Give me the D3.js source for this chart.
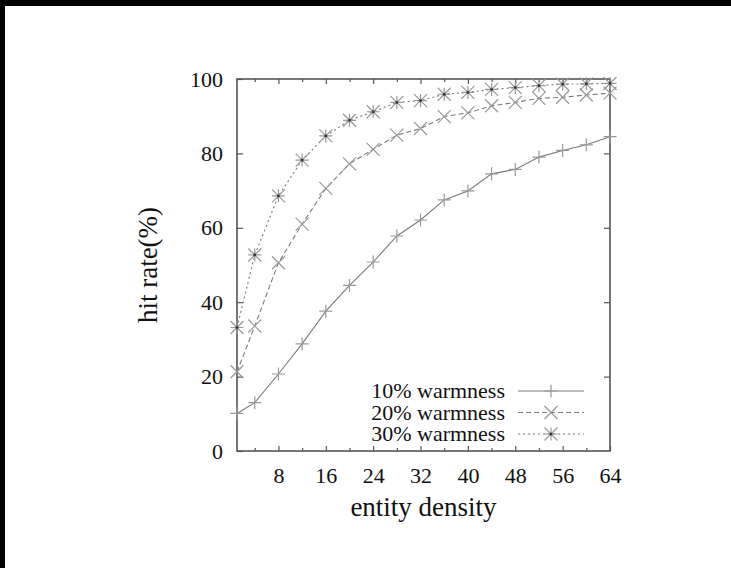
<!DOCTYPE html>
<html>
<head>
<meta charset="utf-8">
<script src="https://cdn.jsdelivr.net/npm/d3@7"></script>
<style>
  body { margin: 0; background: #fff; }
  svg { display: block; }
  text { font-family: "Liberation Serif", "DejaVu Serif", serif; fill: #111; }
</style>
</head>
<body>
<div id="chart"></div>
<script>
/* hit rate vs entity density, three warmness levels */

const density = [1, 4, 8, 12, 16, 20, 24, 28, 32, 36, 40, 44, 48, 52, 56, 60, 64];
const warm10 = [10.1, 13.0, 20.7, 28.8, 37.6, 44.5, 50.8, 57.8, 62.1, 67.5, 69.9, 74.5, 75.7, 79.0, 80.8, 82.3, 84.5];
const warm20 = [21.3, 33.6, 50.6, 61.0, 70.6, 77.2, 81.1, 84.9, 86.7, 89.9, 90.9, 92.8, 93.7, 94.8, 95.1, 95.7, 96.2];
const warm30 = [33.2, 52.7, 68.6, 78.2, 84.7, 88.9, 91.2, 93.7, 94.2, 95.9, 96.4, 97.2, 97.7, 98.2, 98.6, 98.7, 98.8];
const seriesNames = ["10% warmness", "20% warmness", "30% warmness"];
const xLabelTicks = [8, 16, 24, 32, 40, 48, 56, 64];
const xMinorTicks = [4, 12, 20, 28, 36, 44, 52, 60];
const yTicks = [0, 20, 40, 60, 80, 100];

const W = 731, H = 568;
const svg = d3.select("#chart").append("svg").attr("width", W).attr("height", H);

// black scan edges of the original
svg.append("rect").attr("x", 0).attr("y", 0).attr("width", W).attr("height", 6).attr("fill", "#000");
svg.append("rect").attr("x", 0).attr("y", 0).attr("width", 5).attr("height", H).attr("fill", "#000");

const x = d3.scaleLinear().domain([1, 64]).range([237, 610]);
const y = d3.scaleLinear().domain([0, 100]).range([451, 79]);

const axisCol = "#555";
const lineCol = "#7a7a7a";
const markCol = "#999";

const styleAxis = (g) => {
  g.select(".domain").remove();
  g.selectAll(".tick line").attr("stroke", axisCol).attr("stroke-width", 1.2);
  g.selectAll(".tick text").style("font-size", "22px").attr("fill", "#111")
    .style("font-family", "'Liberation Serif', serif");
};

// bottom axis, ticks point inward
svg.append("g").attr("transform", `translate(0,${y(0)})`)
  .call(d3.axisBottom(x).tickValues(xLabelTicks).tickSizeInner(-5).tickSizeOuter(0).tickPadding(16))
  .call(styleAxis);
svg.append("g").attr("transform", `translate(0,${y(0)})`)
  .call(d3.axisBottom(x).tickValues(xMinorTicks).tickSizeInner(-3).tickSizeOuter(0).tickFormat(""))
  .call(styleAxis);
// top mirror
svg.append("g").attr("transform", `translate(0,${y(100)})`)
  .call(d3.axisTop(x).tickValues(xLabelTicks).tickSizeInner(-5).tickSizeOuter(0).tickFormat(""))
  .call(styleAxis);
svg.append("g").attr("transform", `translate(0,${y(100)})`)
  .call(d3.axisTop(x).tickValues(xMinorTicks).tickSizeInner(-3).tickSizeOuter(0).tickFormat(""))
  .call(styleAxis);
// left axis
svg.append("g").attr("transform", `translate(${x(1)},0)`)
  .call(d3.axisLeft(y).tickValues(yTicks).tickSizeInner(-6).tickSizeOuter(0).tickPadding(14))
  .call(styleAxis);
// right mirror
svg.append("g").attr("transform", `translate(${x(64)},0)`)
  .call(d3.axisRight(y).tickValues(yTicks.slice(1, -1)).tickSizeInner(-6).tickSizeOuter(0).tickFormat(""))
  .call(styleAxis);

// frame
svg.append("rect")
  .attr("x", x(1)).attr("y", y(100))
  .attr("width", x(64) - x(1)).attr("height", y(0) - y(100))
  .attr("fill", "none").attr("stroke", axisCol).attr("stroke-width", 1.6);

// axis titles
svg.append("text").attr("x", (x(1) + x(64)) / 2).attr("y", 516)
  .attr("text-anchor", "middle").style("font-size", "27px").text("entity density");
svg.append("text")
  .attr("transform", `translate(157,${(y(0) + y(100)) / 2}) rotate(-90)`)
  .attr("text-anchor", "middle").style("font-size", "27px").text("hit rate(%)");

// markers
const drawMark = (g, kind, cx, cy) => {
  const s = 6.5;
  const p = [];
  if (kind === 0 || kind === 2) {
    p.push(`M${cx - s},${cy}H${cx + s}`, `M${cx},${cy - s}V${cy + s}`);
  }
  if (kind === 1 || kind === 2) {
    p.push(`M${cx - s},${cy - s}L${cx + s},${cy + s}`, `M${cx - s},${cy + s}L${cx + s},${cy - s}`);
  }
  g.append("path").attr("d", p.join("")).attr("stroke", markCol).attr("stroke-width", 1.2).attr("fill", "none");
  if (kind === 2) {
    g.append("rect").attr("x", cx - 1.2).attr("y", cy - 1.2).attr("width", 2.4).attr("height", 2.4).attr("fill", "#333");
  }
};

const series = [warm10, warm20, warm30];
const dashes = [null, "5,3", "2,3"];

const line = d3.line().x((d, i) => x(density[i])).y((d) => y(d));

series.forEach((vals, k) => {
  svg.append("path").datum(vals)
    .attr("d", line)
    .attr("fill", "none")
    .attr("stroke", lineCol)
    .attr("stroke-width", 1.1)
    .attr("stroke-dasharray", dashes[k]);
  const g = svg.append("g");
  vals.forEach((v, i) => drawMark(g, k, x(density[i]), y(v)));
});

// legend
const legY = [391, 412.5, 434];
seriesNames.forEach((name, k) => {
  svg.append("text").attr("x", 505).attr("y", legY[k] + 7)
    .attr("text-anchor", "end").style("font-size", "22px").text(name);
  svg.append("line").attr("x1", 518).attr("x2", 584).attr("y1", legY[k]).attr("y2", legY[k])
    .attr("stroke", lineCol).attr("stroke-width", 1.1).attr("stroke-dasharray", dashes[k]);
  drawMark(svg.append("g"), k, 551, legY[k]);
});
</script>
</body>
</html>
